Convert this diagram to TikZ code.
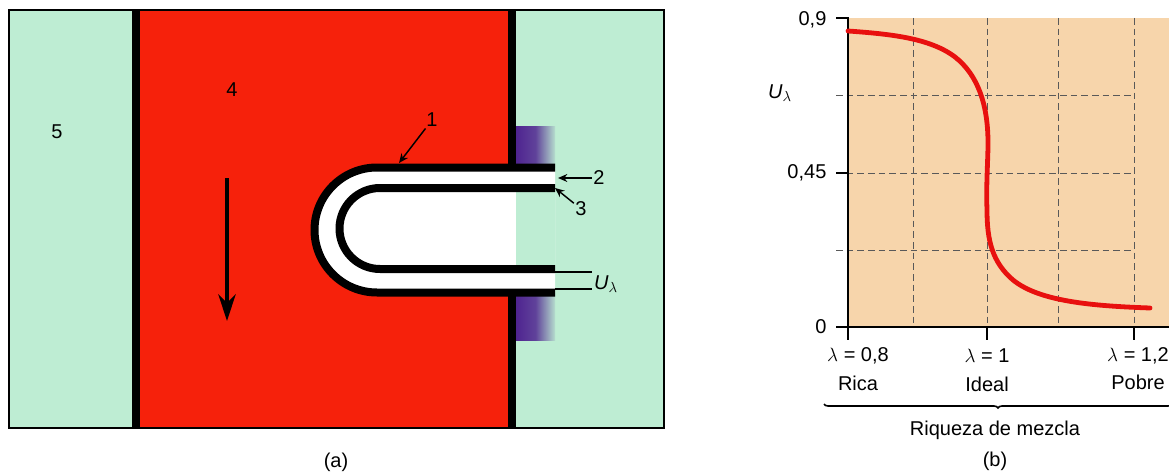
\documentclass[tikz,border=0pt]{standalone}
\usepackage{fontspec}
\setmainfont{Liberation Sans}
\usetikzlibrary{arrows.meta,decorations.pathreplacing}
\definecolor{mint}{HTML}{BEEDD3}
\definecolor{hot}{HTML}{F6210B}
\definecolor{beige}{HTML}{F7D5AB}
\definecolor{violet}{HTML}{4F2490}
\definecolor{curvered}{HTML}{E8100F}
\tikzset{
    lbl/.style={font=\fontsize{15}{18}\selectfont, inner sep=1pt},
    wall/.style={line width=6pt},
    band/.style={line width=6pt},
    grid line/.style={dashed, dash pattern=on 5pt off 3pt, line width=0.65pt, black!65},
    pointer/.style={-{Stealth[length=7pt,width=6pt]}, line width=1.1pt},
    axis line/.style={line width=1.3pt},
}
\begin{document}
\begin{tikzpicture}[x=0.75pt,y=-0.75pt]
    \useasboundingbox (0,0) rectangle (1169,474);

    \fill[mint] (9,10) rectangle (664,428);
    \fill[hot] (136,10) rectangle (512,428);
    \shade[left color=violet, right color=violet!8!mint, middle color=violet!85!mint] (516,127) rectangle (555,167);
    \shade[left color=violet, right color=violet!8!mint, middle color=violet!85!mint] (516,293) rectangle (555,340);
    \draw[line width=1.2pt] (9,10) rectangle (664,428);
    \draw[wall] (136,10) -- (136,428);
    \draw[wall] (512,10) -- (512,166);
    \draw[wall] (512,294) -- (512,428);

    % tube
    \fill[white] (555,167.5) -- (377,167.5) arc (-90:-270:62.5) -- (555,292.5) -- cycle;
    \fill[mint] (516,188) rectangle (555,269);
    \draw[band] (555,167.5) -- (377,167.5) arc (-90:-270:62.5) -- (555,292.5);
    \draw[band] (555,188) -- (380,188) arc (-90:-270:40.5) -- (555,269);

    \node[lbl] (four) at (232,90) {4};
    \node[lbl] (five) at (57,132) {5};
    \coordinate (flowtop) at (227,178);
    \coordinate (flowend) at (227,321);
    \draw[-{Stealth[length=20pt,width=13pt]}, line width=2.8pt] (flowtop) -- (flowend);

    \node[lbl] (one) at (432,120) {1};
    \coordinate (onetip) at (399,163);
    \draw[pointer] (one) -- (onetip);
    \node[lbl] (two) at (599,178) {2};
    \coordinate (twotip) at (558,178);
    \draw[pointer] (two) -- (twotip);
    \node[lbl] (three) at (581,209) {3};
    \coordinate (threetip) at (555,188);
    \draw[pointer] (three) -- (threetip);

    \node[lbl] (ulamtube) at (606,284) {\textit{U}$_{\lambda}$};
    \coordinate (tubein) at (555,272);
    \coordinate (tubeout) at (555,289);
    \draw[line width=1pt] (tubein) -- (592,272);
    \draw[line width=1pt] (tubeout) -- (592,289);
    \node[lbl] (capa) at (336,462) {(a)};

    % graph
    \fill[beige] (848,18) rectangle (1169,327);
    \foreach \xv in {913,987,1058,1134}
        \draw[grid line] (\xv,18) -- (\xv,327);
    \foreach \yv in {95,173,250}
        \draw[grid line] (836,\yv) -- (1134,\yv);
    \draw[axis line] (836,18) -- (848,18) -- (848,340);
    \draw[axis line] (836,327) -- (1169,327);
    \foreach \xv in {987,1134}
        \draw[axis line] (\xv,327) -- (\xv,340);
    \foreach \yv in {173}
        \draw[axis line] (836,\yv) -- (848,\yv);

    \draw[curvered, line width=3.6pt, line cap=round]
        (848,31) .. controls (890,34) and (930,38) .. (955,57)
        .. controls (978,75) and (988,105) .. (988,143)
        .. controls (988,160) and (986,185) .. (987,210)
        .. controls (987,240) and (992,262) .. (1013,280)
        .. controls (1040,302) and (1095,306) .. (1150,308);

    \node[lbl, anchor=east] (ninelab) at (828,20) {0,9};
    \node[lbl, anchor=east] (midlab) at (828,173) {0,45};
    \node[lbl, anchor=east] (zerolab) at (828,327) {0};
    \node[lbl] (ulamaxis) at (780,93) {\textit{U}$_{\lambda}$};

    \node[lbl] (lamrich) at (858,356) {$\lambda$ = 0,8};
    \node[lbl] (lamideal) at (987,356) {$\lambda$ = 1};
    \node[lbl] (lampoor) at (1138,356) {$\lambda$ = 1,2};
    \node[lbl] (rich) at (858,383) {Rica};
    \node[lbl] (ideal) at (987,384) {Ideal};
    \node[lbl] (poor) at (1138,382) {Pobre};

    \coordinate (braceleft) at (824,404);
    \coordinate (braceright) at (1172,404);
    \draw[line width=1.2pt, decorate, decoration={brace, mirror, amplitude=3pt}] (braceleft) -- (braceright);
    \node[lbl] (mixlab) at (995,430) {Riqueza de mezcla};
    \node[lbl] (capb) at (995,461) {(b)};
\end{tikzpicture}
\end{document}
